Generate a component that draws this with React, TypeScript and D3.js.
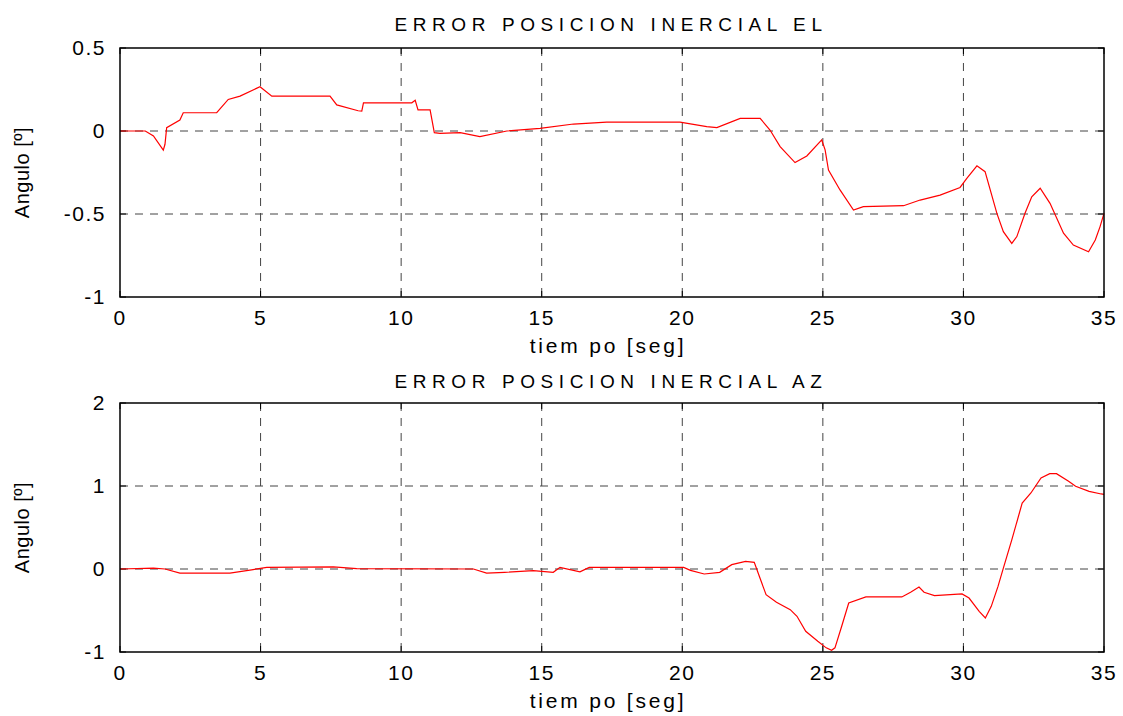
import React from 'react';
import * as d3 from 'd3';

// time [s] and angle [deg]
const elTime = [0, 0.9, 1.19, 1.54, 1.6, 1.66, 2.13, 2.25, 3.44, 3.85, 4.27, 4.98, 5.4, 7.47, 7.71, 8.47, 8.6, 8.66, 10.38, 10.5, 10.6, 11.03, 11.18, 11.38, 12.1, 12.8, 13.76, 14.94, 16.13, 17.31, 19.92, 20.87, 21.23, 22.06, 22.77, 23.12, 23.48, 24.01, 24.43, 24.96, 25.08, 25.2, 25.61, 26.09, 26.44, 27.87, 28.46, 29.17, 29.88, 30.12, 30.48, 30.77, 31.19, 31.42, 31.72, 31.9, 32.19, 32.43, 32.73, 33.08, 33.56, 33.91, 34.45, 34.69, 34.86, 35];
const elValue = [0, 0, -0.03, -0.115, -0.08, 0.02, 0.066, 0.11, 0.11, 0.19, 0.21, 0.267, 0.21, 0.21, 0.157, 0.122, 0.12, 0.17, 0.17, 0.185, 0.127, 0.127, -0.01, -0.014, -0.01, -0.034, 0, 0.016, 0.042, 0.054, 0.054, 0.026, 0.02, 0.076, 0.076, 0.006, -0.094, -0.19, -0.15, -0.054, -0.114, -0.235, -0.355, -0.476, -0.456, -0.45, -0.416, -0.386, -0.34, -0.285, -0.21, -0.245, -0.496, -0.606, -0.677, -0.636, -0.496, -0.396, -0.345, -0.436, -0.616, -0.687, -0.727, -0.657, -0.576, -0.496];

const azTime = [0, 1.19, 1.6, 2.13, 3.91, 4.68, 5.22, 7.59, 8.42, 12.57, 13.04, 13.68, 14.7, 15.41, 15.65, 16.36, 16.69, 20.05, 20.29, 20.78, 21.33, 21.76, 22.25, 22.56, 22.74, 22.98, 23.35, 23.84, 24.08, 24.39, 24.82, 25.12, 25.31, 25.43, 25.67, 25.92, 26.53, 27.81, 28.12, 28.42, 28.6, 28.97, 29.95, 30.2, 30.56, 30.78, 30.99, 31.23, 31.42, 31.72, 32.09, 32.4, 32.76, 33.07, 33.31, 33.74, 33.99, 34.47, 34.9, 35];
const azValue = [0, 0.01, 0, -0.05, -0.05, -0.01, 0.02, 0.025, 0.005, 0, -0.05, -0.04, -0.02, -0.04, 0.02, -0.035, 0.02, 0.02, -0.016, -0.06, -0.04, 0.052, 0.092, 0.08, -0.088, -0.31, -0.4, -0.49, -0.57, -0.75, -0.87, -0.95, -0.98, -0.95, -0.69, -0.41, -0.337, -0.337, -0.28, -0.217, -0.28, -0.32, -0.3, -0.35, -0.51, -0.59, -0.45, -0.21, 0.01, 0.35, 0.795, 0.916, 1.096, 1.149, 1.149, 1.056, 0.996, 0.936, 0.904, 0.9];

const xTicks = [0, 5, 10, 15, 20, 25, 30, 35];
const elTicks = [0.5, 0, -0.5, -1];
const elTickLabels = ['0.5', '0', '-0.5', '-1'];
const azTicks = [2, 1, 0, -1];
const azTickLabels = ['2', '1', '0', '-1'];

const font = '"Liberation Sans", Arial, sans-serif';

const Panel = ({ top, bottom, title, titleY, time, value, yDomain, yTicks, yTickLabels }) => {
  const left = 120;
  const right = 1104;
  const x = d3.scaleLinear().domain([0, 35]).range([left, right]);
  const y = d3.scaleLinear().domain(yDomain).range([bottom, top]);
  const line = d3.line<number>()
    .x((_, i) => x(time[i]))
    .y((d) => y(d));
  return (
    <g>
      <text x={611} y={titleY} textAnchor="middle" fontSize={19} letterSpacing={5.6} fill="#000">{title}</text>
      {xTicks.slice(1, -1).map((t) => (
        <line key={`gx${t}`} x1={x(t)} x2={x(t)} y1={top} y2={bottom} stroke="#444" strokeDasharray="8,7" />
      ))}
      {yTicks.slice(1, -1).map((t) => (
        <line key={`gy${t}`} x1={left} x2={right} y1={y(t)} y2={y(t)} stroke="#444" strokeDasharray="8,7" />
      ))}
      {xTicks.map((t) => (
        <g key={`tx${t}`}>
          <line x1={x(t)} x2={x(t)} y1={bottom} y2={bottom - 6} stroke="#000" />
          <line x1={x(t)} x2={x(t)} y1={top} y2={top + 6} stroke="#000" />
          <text x={x(t)} y={bottom + 28} textAnchor="middle" fontSize={21} letterSpacing={1.5}>{t}</text>
        </g>
      ))}
      {yTicks.map((t, i) => (
        <g key={`ty${t}`}>
          <line x1={left} x2={left + 6} y1={y(t)} y2={y(t)} stroke="#000" />
          <line x1={right} x2={right - 6} y1={y(t)} y2={y(t)} stroke="#000" />
          <text x={106} y={y(t) + 7} textAnchor="end" fontSize={21} letterSpacing={1.5}>{yTickLabels[i]}</text>
        </g>
      ))}
      <path d={line(value) || ''} fill="none" stroke="#ff0000" strokeWidth={1.2} />
      <rect x={left} y={top} width={right - left} height={bottom - top} fill="none" stroke="#000" strokeWidth={1.5} />
      <text x={608} y={bottom + 56} textAnchor="middle" fontSize={21} letterSpacing={2.8}>tiem po [seg]</text>
      <text transform={`translate(29,${(top + bottom) / 2}) rotate(-90)`} textAnchor="middle" fontSize={20} letterSpacing={0.5}>Angulo [º]</text>
    </g>
  );
};

export default function App() {
  return (
    <svg width={1123} height={716} style={{ position: 'absolute', left: 0, top: 0, background: '#fff' }} fontFamily={font}>
      <rect width={1123} height={716} fill="#fff" />
      <Panel top={48} bottom={297} title="ERROR POSICION INERCIAL EL" titleY={31} time={elTime} value={elValue}
        yDomain={[-1, 0.5]} yTicks={elTicks} yTickLabels={elTickLabels} />
      <Panel top={403} bottom={652} title="ERROR POSICION INERCIAL AZ" titleY={388} time={azTime} value={azValue}
        yDomain={[-1, 2]} yTicks={azTicks} yTickLabels={azTickLabels} />
    </svg>
  );
}
